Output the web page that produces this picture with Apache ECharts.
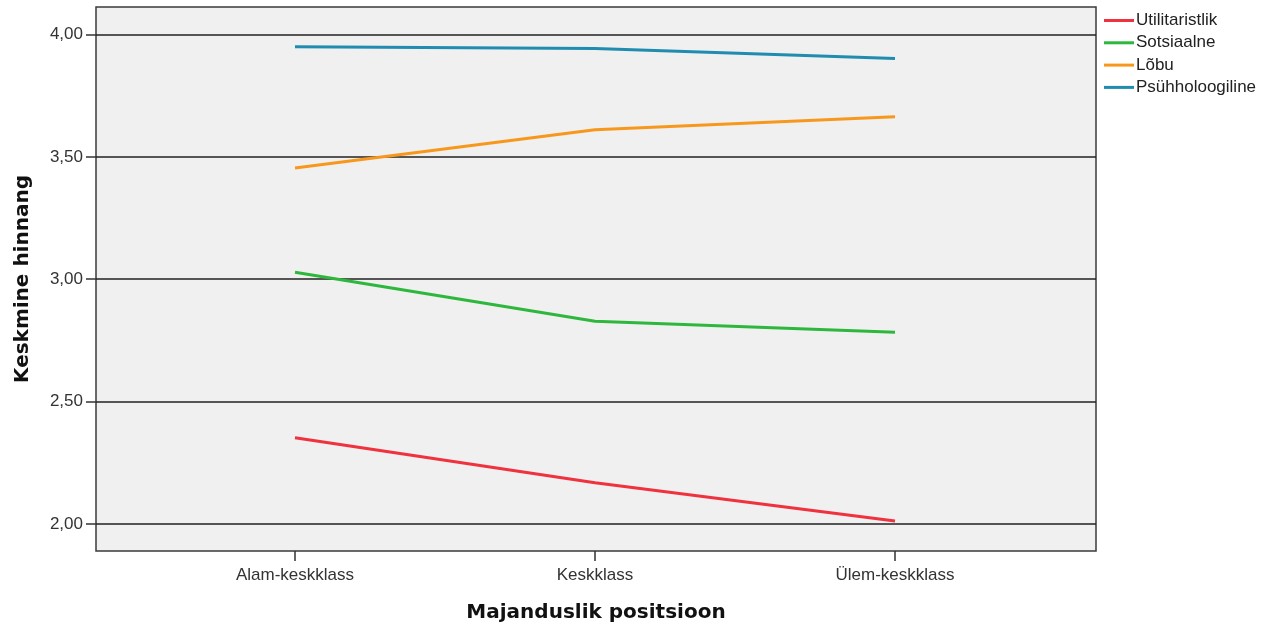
<!DOCTYPE html>
<html><head><meta charset="utf-8">
<script src="https://cdn.jsdelivr.net/npm/echarts@6/dist/echarts.min.js"></script>
<style>html,body{margin:0;padding:0;background:#fff}#c{width:1274px;height:628px}</style>
</head><body><div id="c"></div>
<script>
const categories = ['Alam-keskklass', 'Keskklass', 'Ülem-keskklass'];
const seriesNames = ['Utilitaristlik', 'Sotsiaalne', 'Lõbu', 'Psühholoogiline'];
const utilitaristlik = [2.352, 2.168, 2.012];
const sotsiaalne = [3.029, 2.828, 2.783];
const lobu = [3.455, 3.611, 3.664];
const psuhholoogiline = [3.951, 3.943, 3.902];
const yTicks = [2.0, 2.5, 3.0, 3.5, 4.0];
const colors = ['#f0323f', '#2db83d', '#f7981d', '#1f8cb0'];

const allData = [utilitaristlik, sotsiaalne, lobu, psuhholoogiline];
const xIdx = categories.map((c, i) => i);
const font = '"Liberation Sans", Arial, sans-serif';

const chart = echarts.init(document.getElementById('c'), null, {renderer: 'canvas'});
chart.setOption({
  animation: false,
  color: colors,
  grid: {left: 96, top: 7, width: 1000, height: 544, show: true, backgroundColor: '#f0f0f0', borderColor: '#3a3a3a', borderWidth: 1.5, containLabel: false, outerBoundsMode: 'none'},
  legend: {
    orient: 'vertical', left: 1099, top: 7, itemWidth: 30, itemHeight: 3, itemGap: 5.3, icon: 'rect',
    data: seriesNames,
    textStyle: {fontFamily: font, fontSize: 17, color: '#222', padding: [0, 0, 0, -3]}
  },
  xAxis: {
    type: 'value', min: -0.6633, max: 2.67,
    name: 'Majanduslik positsioon', nameLocation: 'middle', nameGap: 52,
    nameTextStyle: {fontFamily: '"DejaVu Sans", sans-serif', fontWeight: 'bold', fontSize: 20, color: '#111'},
    axisLine: {show: false, onZero: false},
    axisTick: {show: true, customValues: xIdx, length: 10, lineStyle: {color: '#333', width: 1.5}},
    axisLabel: {customValues: xIdx, formatter: v => categories[Math.round(v)], fontFamily: font, fontSize: 17, color: '#333', margin: 16},
    splitLine: {show: false}
  },
  yAxis: {
    type: 'value', min: 1.889, max: 4.113,
    name: 'Keskmine hinnang', nameLocation: 'middle', nameGap: 63,
    nameTextStyle: {fontFamily: '"DejaVu Sans", sans-serif', fontWeight: 'bold', fontSize: 20, color: '#111'},
    axisLine: {show: false, onZero: false},
    axisTick: {show: true, customValues: yTicks, length: 10, lineStyle: {color: '#333', width: 1.5}},
    axisLabel: {customValues: yTicks, formatter: v => v.toFixed(2).replace('.', ','), fontFamily: font, fontSize: 17, color: '#333', margin: 13},
    splitLine: {show: true, lineStyle: {color: '#222', width: 1.5}}
  },
  series: seriesNames.map((n, i) => ({
    name: n, type: 'line', symbol: 'none', silent: true,
    lineStyle: {width: 3, color: colors[i]},
    data: allData[i].map((v, j) => [xIdx[j], v])
  }))
});
</script></body></html>
